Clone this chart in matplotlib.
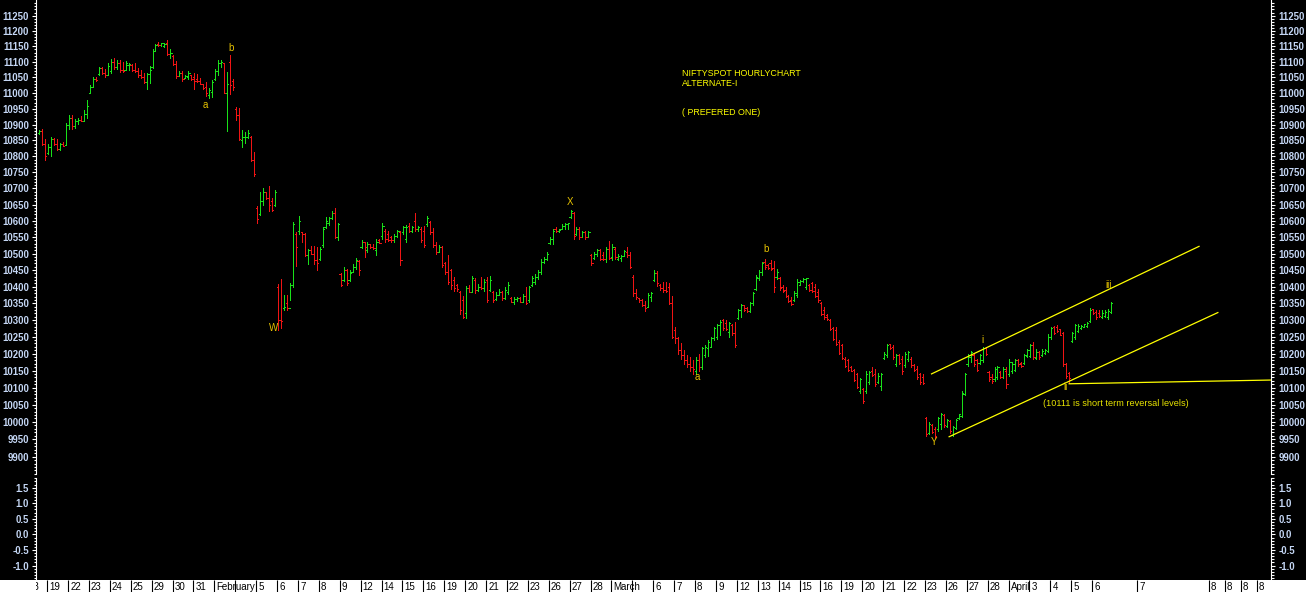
import numpy as np
import matplotlib
matplotlib.use('Agg')
import matplotlib.pyplot as plt
from matplotlib.patches import Rectangle
from matplotlib.ticker import FixedLocator, FuncFormatter, NullFormatter

plt.rcParams['font.family'] = ['Liberation Sans', 'DejaVu Sans']

# trading days on the time axis, '' where the month name runs over the cell
day_labels = ['18', '19', '22', '23', '24', '25', '29', '30', '31',
              'February', '', '5', '6', '7', '8', '9', '12', '14', '15', '16',
              '19', '20', '21', '22', '23', '26', '27', '28',
              'March', '', '6', '7', '8', '9', '12', '13', '14', '15', '16',
              '19', '20', '21', '22', '23', '26', '27', '28',
              'April', '3', '4', '5', '6']
# empty future cells after the last day (bar index where each cell starts)
future_labels = ['7', '8', '8', '8', '8']
future_pos = [372.0, 396.0, 401.5, 406.8, 412.2]

# hourly OHLC, one row per day (18 Jan shows only its last three bars)
opens = [
    10872, 10880, 10840,
    10812, 10830, 10855, 10840, 10822, 10838, 10836,
    10900, 10920, 10895, 10912, 10915, 10912, 10935,
    11000, 11020, 11045, 11060, 11080, 11065, 11058,
    11070, 11100, 11085, 11098, 11075, 11075, 11090,
    11090, 11075, 11070, 11058, 11050, 11035, 11060,
    11085, 11135, 11158, 11153, 11150, 11160, 11125,
    11120, 11092, 11055, 11065, 11048, 11050, 11058,
    11050, 11045, 11040, 11028, 11020, 10995, 11005,
    11045, 11070, 11095, 11095, 10999, 11100, 11040,
    10950, 10930, 10850, 10860, 10862, 10860, 10790,
    10640, 10620, 10660, 10690, 10670, 10660, 10650,
    10400, 10300, 10335, 10350, 10335, 10405, 10560,
    10570, 10565, 10560, 10495, 10510, 10500, 10480,
    10485, 10525, 10580, 10595, 10608, 10625, 10550,
    10438, 10420, 10450, 10420, 10445, 10460, 10478,
    10520, 10535, 10510, 10528, 10520, 10510, 10540,
    10555, 10570, 10560, 10550, 10540, 10555, 10565,
    10565, 10545, 10585, 10570, 10600, 10575, 10575,
    10570, 10590, 10598, 10565, 10525, 10505, 10520,
    10470, 10445, 10450, 10420, 10405, 10385, 10360,
    10320, 10395, 10385, 10420, 10390, 10400, 10395,
    10420, 10390, 10385, 10362, 10375, 10385, 10365,
    10385, 10366, 10355, 10362, 10365, 10355, 10372,
    10360, 10405, 10415, 10430, 10445, 10475, 10485,
    10532, 10545, 10575, 10568, 10575, 10585, 10590,
    10612, 10625, 10560, 10575, 10550, 10565, 10550,
    10495, 10486, 10500, 10510, 10495, 10482, 10515,
    10490, 10515, 10485, 10486, 10494, 10505, 10495,
    10430, 10380, 10365, 10360, 10345, 10340, 10370,
    10420, 10440, 10405, 10395, 10390, 10400, 10350,
    10270, 10245, 10210, 10195, 10180, 10170, 10160,
    10150, 10180, 10160, 10195, 10215, 10220, 10245,
    10250, 10285, 10300, 10290, 10265, 10285, 10260,
    10306, 10330, 10344, 10335, 10326, 10350, 10392,
    10425, 10445, 10475, 10465, 10470, 10455, 10430,
    10425, 10400, 10390, 10372, 10360, 10360, 10375,
    10406, 10416, 10400, 10405, 10410, 10400, 10385,
    10350, 10330, 10315, 10300, 10275, 10270, 10235,
    10225, 10185, 10180, 10160, 10152, 10140, 10090,
    10095, 10090, 10115, 10150, 10140, 10115, 10105,
    10186, 10195, 10228, 10220, 10170, 10195, 10185,
    10165, 10185, 10185, 10165, 10155, 10140, 10130,
    10010, 9968, 9990, 9980, 9980, 9995, 10020,
    9988, 10003, 9962, 9982, 10010, 10016, 10082,
    10168, 10190, 10195, 10180, 10172, 10180, 10215,
    10145, 10130, 10125, 10130, 10145, 10132, 10150,
    10140, 10148, 10152, 10180, 10172, 10172, 10192,
    10192, 10225, 10188, 10205, 10196, 10202, 10208,
    10248, 10280, 10280, 10272, 10262, 10170, 10144,
    10238, 10250, 10268, 10276, 10280, 10282, 10296,
    10332, 10325, 10322, 10310, 10312, 10310, 10325,
]
highs = [
    10883, 10886, 10855,
    10839, 10860, 10857, 10855, 10842, 10844, 10906,
    10930, 10930, 10918, 10920, 10927, 10947, 10977,
    11025, 11052, 11052, 11085, 11083, 11076, 11096,
    11109, 11112, 11107, 11105, 11100, 11102, 11097,
    11092, 11097, 11080, 11075, 11064, 11064, 11088,
    11140, 11158, 11163, 11162, 11160, 11171, 11141,
    11123, 11102, 11070, 11070, 11059, 11070, 11059,
    11065, 11061, 11048, 11028, 11034, 11015, 11042,
    11076, 11105, 11107, 11096, 11069, 11123, 11045,
    10957, 10952, 10883, 10878, 10883, 10865, 10815,
    10645, 10690, 10700, 10687, 10708, 10672, 10696,
    10408, 10422, 10374, 10374, 10412, 10598, 10567,
    10615, 10567, 10562, 10514, 10524, 10524, 10520,
    10520, 10582, 10613, 10613, 10630, 10640, 10595,
    10441, 10459, 10452, 10449, 10469, 10486, 10479,
    10540, 10536, 10534, 10529, 10529, 10545, 10545,
    10595, 10575, 10570, 10555, 10560, 10573, 10570,
    10585, 10587, 10595, 10585, 10623, 10583, 10580,
    10585, 10615, 10600, 10577, 10534, 10526, 10524,
    10474, 10496, 10454, 10428, 10408, 10388, 10373,
    10403, 10405, 10431, 10425, 10408, 10428, 10423,
    10428, 10431, 10388, 10383, 10393, 10388, 10398,
    10413, 10368, 10368, 10368, 10368, 10378, 10398,
    10403, 10431, 10438, 10449, 10482, 10489, 10504,
    10550, 10575, 10580, 10575, 10590, 10595, 10595,
    10635, 10627, 10580, 10580, 10570, 10570, 10570,
    10499, 10506, 10514, 10514, 10504, 10519, 10539,
    10529, 10519, 10499, 10496, 10511, 10519, 10506,
    10435, 10393, 10365, 10363, 10358, 10381, 10385,
    10449, 10446, 10408, 10413, 10413, 10411, 10371,
    10280, 10250, 10230, 10210, 10195, 10190, 10180,
    10190, 10200, 10219, 10226, 10239, 10249, 10279,
    10289, 10299, 10304, 10299, 10294, 10289, 10294,
    10334, 10349, 10344, 10339, 10354, 10384, 10434,
    10449, 10474, 10482, 10469, 10479, 10476, 10452,
    10429, 10404, 10399, 10374, 10369, 10386, 10424,
    10419, 10426, 10426, 10409, 10414, 10409, 10394,
    10354, 10339, 10319, 10304, 10279, 10279, 10239,
    10229, 10189, 10184, 10164, 10154, 10144, 10129,
    10099, 10149, 10149, 10159, 10154, 10144, 10144,
    10204, 10229, 10229, 10224, 10199, 10199, 10194,
    10204, 10209, 10189, 10169, 10164, 10144, 10139,
    10014, 9999, 9994, 9984, 10014, 10026, 10024,
    10009, 10004, 9989, 10009, 10024, 10089, 10144,
    10199, 10209, 10199, 10184, 10199, 10219, 10218,
    10149, 10139, 10159, 10164, 10149, 10159, 10159,
    10184, 10174, 10184, 10184, 10174, 10199, 10214,
    10229, 10234, 10214, 10209, 10214, 10214, 10259,
    10279, 10282, 10284, 10274, 10264, 10172, 10146,
    10264, 10289, 10289, 10286, 10289, 10294, 10336,
    10334, 10329, 10329, 10329, 10329, 10332, 10354,
]
lows = [
    10870, 10836, 10788,
    10808, 10800, 10837, 10819, 10821, 10832, 10836,
    10885, 10886, 10889, 10901, 10911, 10915, 10920,
    10999, 11020, 11039, 11057, 11061, 11050, 11057,
    11063, 11077, 11076, 11069, 11069, 11076, 11073,
    11070, 11067, 11053, 11048, 11031, 11012, 11031,
    11080, 11134, 11152, 11152, 11148, 11123, 11113,
    11089, 11048, 11054, 11038, 11048, 11045, 11041,
    11012, 11036, 11029, 11012, 10991, 10983, 10989,
    11042, 11058, 11085, 11000, 10880, 10996, 11010,
    10915, 10852, 10831, 10842, 10857, 10785, 10740,
    10593, 10618, 10650, 10666, 10629, 10629, 10647,
    10270, 10275, 10330, 10330, 10360, 10400, 10463,
    10560, 10536, 10493, 10469, 10499, 10469, 10450,
    10480, 10520, 10578, 10588, 10605, 10546, 10540,
    10403, 10418, 10405, 10418, 10444, 10454, 10435,
    10516, 10489, 10506, 10516, 10514, 10496, 10531,
    10545, 10534, 10538, 10536, 10534, 10550, 10464,
    10560, 10534, 10565, 10565, 10570, 10570, 10534,
    10519, 10585, 10560, 10519, 10499, 10504, 10459,
    10438, 10408, 10393, 10388, 10388, 10317, 10307,
    10307, 10383, 10383, 10381, 10388, 10393, 10388,
    10355, 10388, 10355, 10361, 10375, 10361, 10363,
    10378, 10353, 10348, 10358, 10353, 10353, 10348,
    10355, 10403, 10408, 10423, 10438, 10472, 10479,
    10529, 10529, 10565, 10565, 10575, 10575, 10575,
    10610, 10545, 10557, 10545, 10555, 10545, 10553,
    10466, 10484, 10494, 10479, 10479, 10474, 10484,
    10479, 10484, 10479, 10476, 10494, 10489, 10456,
    10373, 10363, 10353, 10341, 10328, 10341, 10358,
    10418, 10401, 10391, 10383, 10385, 10348, 10245,
    10230, 10200, 10185, 10170, 10160, 10150, 10141,
    10141, 10150, 10154, 10189, 10194, 10219, 10239,
    10244, 10256, 10269, 10269, 10249, 10254, 10219,
    10304, 10309, 10326, 10324, 10324, 10344, 10389,
    10419, 10434, 10454, 10454, 10450, 10384, 10424,
    10389, 10384, 10369, 10354, 10344, 10356, 10369,
    10404, 10414, 10394, 10386, 10384, 10369, 10354,
    10314, 10304, 10299, 10269, 10239, 10224, 10199,
    10184, 10159, 10149, 10148, 10119, 10099, 10084,
    10054, 10084, 10109, 10134, 10104, 10114, 10094,
    10184, 10189, 10214, 10184, 10164, 10169, 10139,
    10159, 10179, 10159, 10149, 10124, 10109, 10109,
    9959, 9964, 9969, 9954, 9974, 9979, 9984,
    9984, 9969, 9959, 9979, 10009, 10014, 10079,
    10164, 10174, 10164, 10149, 10169, 10174, 10195,
    10119, 10114, 10119, 10124, 10129, 10129, 10099,
    10134, 10144, 10149, 10164, 10159, 10169, 10189,
    10189, 10184, 10184, 10184, 10194, 10199, 10204,
    10244, 10259, 10264, 10254, 10164, 10129, 10112,
    10234, 10244, 10264, 10274, 10279, 10279, 10294,
    10319, 10304, 10309, 10306, 10309, 10304, 10322,
]
closes = [
    10880, 10840, 10800,
    10830, 10855, 10840, 10822, 10838, 10834, 10900,
    10920, 10895, 10912, 10915, 10912, 10935, 10960,
    11020, 11045, 11042, 11080, 11065, 11058, 11088,
    11100, 11085, 11098, 11075, 11072, 11095, 11093,
    11075, 11070, 11058, 11050, 11035, 11060, 11075,
    11135, 11155, 11153, 11160, 11157, 11125, 11130,
    11092, 11055, 11065, 11045, 11055, 11065, 11045,
    11040, 11038, 11030, 11015, 11000, 11010, 11035,
    11070, 11095, 11100, 11000, 11030, 11025, 11020,
    10930, 10855, 10860, 10862, 10875, 10790, 10745,
    10605, 10660, 10690, 10670, 10650, 10635, 10690,
    10300, 10296, 10340, 10335, 10405, 10590, 10520,
    10600, 10560, 10495, 10510, 10500, 10480, 10470,
    10515, 10575, 10600, 10608, 10625, 10550, 10590,
    10405, 10450, 10410, 10440, 10460, 10480, 10450,
    10535, 10520, 10528, 10520, 10518, 10535, 10533,
    10585, 10545, 10542, 10540, 10555, 10570, 10480,
    10580, 10582, 10570, 10580, 10575, 10580, 10540,
    10525, 10610, 10565, 10525, 10505, 10520, 10465,
    10445, 10415, 10405, 10395, 10393, 10330, 10310,
    10395, 10385, 10425, 10390, 10400, 10395, 10415,
    10360, 10420, 10360, 10375, 10385, 10365, 10390,
    10405, 10355, 10362, 10365, 10355, 10372, 10350,
    10398, 10425, 10430, 10445, 10475, 10485, 10500,
    10545, 10570, 10568, 10573, 10585, 10590, 10593,
    10630, 10555, 10575, 10550, 10565, 10550, 10565,
    10470, 10500, 10510, 10485, 10482, 10515, 10488,
    10520, 10490, 10492, 10494, 10508, 10495, 10460,
    10380, 10370, 10360, 10345, 10335, 10375, 10380,
    10440, 10410, 10395, 10390, 10387, 10350, 10250,
    10245, 10210, 10195, 10180, 10170, 10160, 10154,
    10180, 10160, 10215, 10220, 10235, 10245, 10275,
    10285, 10295, 10275, 10272, 10290, 10260, 10225,
    10330, 10345, 10330, 10326, 10350, 10380, 10428,
    10445, 10470, 10458, 10456, 10452, 10400, 10445,
    10395, 10388, 10372, 10358, 10348, 10380, 10415,
    10418, 10424, 10425, 10390, 10388, 10372, 10360,
    10318, 10308, 10302, 10272, 10242, 10228, 10202,
    10188, 10162, 10152, 10150, 10122, 10102, 10125,
    10060, 10140, 10145, 10138, 10110, 10135, 10140,
    10200, 10225, 10216, 10190, 10195, 10172, 10150,
    10200, 10205, 10165, 10152, 10130, 10115, 10112,
    9965, 9995, 9972, 9958, 10010, 10022, 9990,
    10005, 9975, 9985, 10005, 10022, 10085, 10140,
    10195, 10205, 10168, 10152, 10195, 10215, 10200,
    10125, 10118, 10155, 10160, 10132, 10155, 10110,
    10175, 10170, 10180, 10168, 10162, 10195, 10210,
    10225, 10190, 10205, 10190, 10208, 10212, 10250,
    10276, 10262, 10266, 10256, 10170, 10135, 10128,
    10262, 10285, 10282, 10283, 10287, 10292, 10330,
    10322, 10308, 10312, 10322, 10325, 10328, 10350,
]
FIRST_BAR = 4   # 18 Jan starts four bars left of the visible part

# Elliott wave marks: (text, bar index, price)
wave_text = ['b', 'a', 'W', 'X', 'b', 'a', 'Y', 'i', 'ii', 'iii']
wave_x = [68.3, 59.6, 82.7, 181.8, 247.5, 224.3, 303.9, 319.8, 347.7, 362.2]
wave_y = [11145, 10961, 10275, 10658, 10513, 10132, 9941, 10241, 10101, 10404]

# drawn lines: (bar index pair, price pair)
channel_top = ([302.9, 392.5], [10140, 10522])
channel_bottom = ([308.8, 398.8], [9957, 10322])
reversal_line = ([349.0, 416.6], [10111, 10122])

GREEN = '#19e019'
RED = '#f01414'
YELLOW = '#ffff00'
GOLD = '#e6c200'
TICKTXT = '#c4d6f4'

W, H = 1306, 592
fig = plt.figure(figsize=(W / 100, H / 100), dpi=100, facecolor='black')

XLIM = (2.98, 416.6)
left, width = 36 / W, 1235 / W
ax = fig.add_axes([left, 1 - 474 / H, width, 474 / H], facecolor='black')
ax_low = fig.add_axes([left, 1 - 579 / H, width, 101 / H], facecolor='black')
fig.patches.append(Rectangle((0, 0), 1, 12 / H, transform=fig.transFigure,
                             facecolor='white', edgecolor='none', zorder=-5))
ax_day = fig.add_axes([left, 0, width, 12 / H], facecolor='white')
ax_day.set_zorder(5)

# price bars
o = np.array(opens, float)
h = np.array(highs, float)
l = np.array(lows, float)
c = np.array(closes, float)
x = np.arange(len(c)) + FIRST_BAR
up = c >= o
for m, col in ((up, GREEN), (~up, RED)):
    ax.vlines(x[m], l[m], h[m], color=col, lw=0.72, antialiased=False)
    ax.hlines(o[m], x[m] - 0.4, x[m], color=col, lw=0.72, antialiased=False)
    ax.hlines(c[m], x[m], x[m] + 0.4, color=col, lw=0.72, antialiased=False)

for xs, ys in (channel_top, channel_bottom, reversal_line):
    ax.plot(xs, ys, color=YELLOW, lw=0.9)

for t, xx, yy in zip(wave_text, wave_x, wave_y):
    ax.text(xx, yy, t, color=GOLD, fontsize=7, ha='center', va='center')
ax.text(340.3, 10054, '(10111 is short term reversal levels)', color='#e8e400',
        fontsize=6.6, ha='left', va='center')

fig.text(681.7 / W, 1 - 73 / H, 'NIFTYSPOT HOURLYCHART', color=YELLOW, fontsize=6.4, va='center')
fig.text(681.7 / W, 1 - 83.5 / H, 'ALTERNATE-I', color=YELLOW, fontsize=6.4, va='center')
fig.text(681.7 / W, 1 - 112.3 / H, '( PREFERED ONE)', color=YELLOW, fontsize=6.4, va='center')

# price axis (log scale, labels on both sides)
ax.set_yscale('log')
ax.set_ylim(9850, 11301)
ax.yaxis.set_major_locator(FixedLocator(np.arange(9900, 11251, 50)))
ax.yaxis.set_major_formatter(FuncFormatter(lambda v, p: '%d' % round(v)))
ax.yaxis.set_minor_locator(FixedLocator(np.arange(9850, 11300, 10)))
ax.yaxis.set_minor_formatter(NullFormatter())

ax_low.set_ylim(-1.43, 1.81)
ax_low.yaxis.set_major_locator(FixedLocator(np.arange(-1.0, 1.51, 0.5)))
ax_low.yaxis.set_major_formatter(FuncFormatter(lambda v, p: '%.1f' % v))
ax_low.yaxis.set_minor_locator(FixedLocator(np.arange(-1.4, 1.81, 0.1)))

for a in (ax, ax_low):
    a.set_xlim(*XLIM)
    a.set_xticks([])
    for s in ('top', 'bottom'):
        a.spines[s].set_visible(False)
    for s in ('left', 'right'):
        a.spines[s].set_color('white')
        a.spines[s].set_linewidth(0.8)
    a.tick_params(axis='y', which='both', left=True, right=True, labelleft=True,
                  labelright=True, direction='out', color='white', width=0.8,
                  labelcolor=TICKTXT, labelsize=6.9)
    a.tick_params(axis='y', which='major', length=3.2, pad=2)
    a.tick_params(axis='y', which='minor', length=1.8)
    for lab in a.get_yticklabels():
        lab.set_fontweight('bold')

# date strip
ax_day.set_xlim(*XLIM)
ax_day.set_ylim(0, 1)
ax_day.set_xticks([])
ax_day.set_yticks([])
for s in ax_day.spines.values():
    s.set_visible(False)
starts = [7 * d for d in range(len(day_labels))] + future_pos
labels = day_labels + future_labels
for s, t in zip(starts, labels):
    ax_day.text(s + 0.4, 0.42, t, color='black', fontsize=7, ha='left', va='center',
                clip_on=True, zorder=2)
ax_day.vlines(np.array(starts) - 0.3, 0, 1, color='black', lw=0.8, zorder=3)

fig.savefig('out.png', dpi=100, facecolor='black')
